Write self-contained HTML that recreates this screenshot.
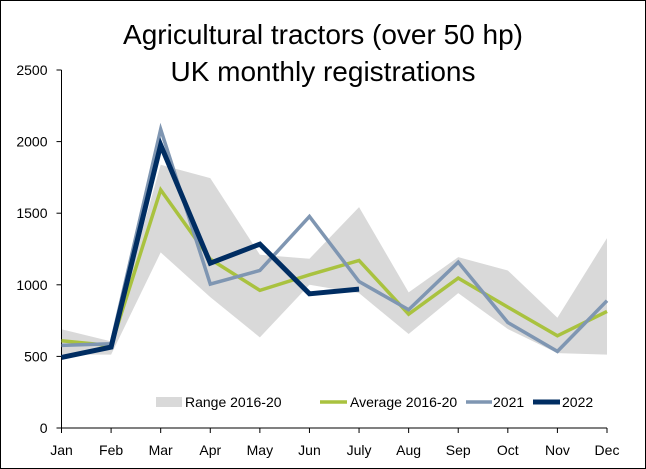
<!DOCTYPE html>
<html><head><meta charset="utf-8"><style>
html,body{margin:0;padding:0;background:#fff}
svg{display:block;font-family:"Liberation Sans",Calibri,sans-serif}
</style></head><body>
<svg id="chart" width="646" height="469" viewBox="0 0 646 469">
<rect x="0.5" y="0.5" width="645" height="468" fill="#fff" stroke="#000" stroke-width="1"/>
<text x="323" y="44" font-size="28" text-anchor="middle" fill="#000">Agricultural tractors (over 50 hp)</text>
<text x="323" y="81" font-size="28" text-anchor="middle" fill="#000">UK monthly registrations</text>
<g id="plot"></g>
<g font-size="14" fill="#000">
<rect x="156" y="397" width="26" height="10" fill="#d9d9d9"/>
<text x="185" y="407">Range 2016-20</text>
<line x1="320" y1="402" x2="347" y2="402" stroke="#a9c23f" stroke-width="3.5"/>
<text x="350" y="407">Average 2016-20</text>
<line x1="466" y1="402" x2="492" y2="402" stroke="#7f96b2" stroke-width="3.5"/>
<text x="493" y="407">2021</text>
<line x1="533" y1="402" x2="560" y2="402" stroke="#002d62" stroke-width="5"/>
<text x="562" y="407">2022</text>
</g>
</svg>
<script>
const months=["Jan","Feb","Mar","Apr","May","Jun","July","Aug","Sep","Oct","Nov","Dec"];
const yTicks=[0,500,1000,1500,2000,2500];
const rangeHigh=[690,605,1838,1745,1210,1182,1542,947,1193,1100,770,1326];
const rangeLow=[512,512,1226,914,633,1000,942,656,942,691,523,512];
const avg=[609,575,1663,1179,961,1070,1170,795,1047,844,644,814];
const y2021=[577,588,2086,1005,1100,1477,1023,826,1158,737,535,889];
const y2022=[493,565,1977,1151,1284,937,970];
const NS="http://www.w3.org/2000/svg";
const g=document.getElementById("plot");
const x0=61.5,x1=607,yB=428,yT=70,yMax=2500;
function X(i){return x0+i*(x1-x0)/(months.length-1);}
function Y(v){return yB-v*(yB-yT)/yMax;}
function mk(t,a){const e=document.createElementNS(NS,t);for(const k in a)e.setAttribute(k,a[k]);g.appendChild(e);return e;}
// range area
let d="M"+rangeHigh.map((v,i)=>X(i)+","+Y(v)).join("L");
for(let i=rangeLow.length-1;i>=0;i--)d+="L"+X(i)+","+Y(rangeLow[i]);
const area=mk("path",{d:d+"Z",fill:"#d9d9d9"});


// axes
const ya=mk("line",{x1:x0,y1:yT,x2:x0,y2:yB,stroke:"#000","stroke-width":1});


const xa=mk("line",{x1:x0,y1:yB,x2:x1,y2:yB,stroke:"#000","stroke-width":1});


yTicks.forEach(v=>{
 const t=mk("line",{x1:x0-5,y1:Y(v),x2:x0,y2:Y(v),stroke:"#000"});
 
 
 const l=mk("text",{x:x0-14,y:Y(v)+5,"font-size":14,"text-anchor":"end",fill:"#000"});
 l.textContent=v;
 
 
});
months.forEach((m,i)=>{
 const t=mk("line",{x1:X(i),y1:yB,x2:X(i),y2:yB+5,stroke:"#000"});
 
 
 const l=mk("text",{x:X(i),y:yB+27,"font-size":14,"text-anchor":"middle",fill:"#000"});
 l.textContent=m;
 
 
});
function line(arr,color,w,name){
 const p=mk("polyline",{points:arr.map((v,i)=>X(i)+","+Y(v)).join(" "),fill:"none",stroke:color,"stroke-width":w,"stroke-linejoin":"miter","stroke-linecap":"butt"});
 
 
}
line(avg,"#a9c23f",3.5,"average-line");
line(y2021,"#7f96b2",3.5,"line-2021");
line(y2022,"#002d62",5,"line-2022");
</script>
</body></html>
